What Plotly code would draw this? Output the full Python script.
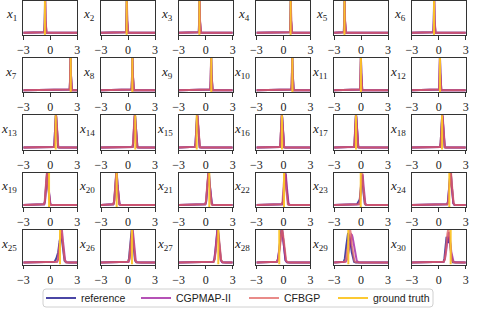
import numpy as np
import plotly.graph_objects as go

# ---------------- data ----------------
labels = [f"x{i}" for i in range(1, 31)]
truth = [-0.60, -0.15, -0.70, 0.80, -1.85, -0.53,
         2.27, 0.48, 0.62, 1.00, -0.02, 0.13,
         0.60, 0.81, -1.00, -0.16, -0.57, 0.36,
         -0.14, -1.26, 0.40, 0.07, -0.04, 1.17,
         1.08, 0.44, 1.40, -0.46, -1.42, 1.32]

cfbgp_mu = [-0.56, -0.12, -0.67, 0.83, -1.82, -0.50,
            2.24, 0.50, 0.60, 0.98, -0.03, 0.12,
            0.64, 0.74, -0.93, -0.18, -0.58, 0.38,
            -0.37, -1.30, 0.30, 0.15, 0.10, 1.33,
            1.20, 0.45, 1.35, -0.15, -1.25, 1.05]
cfbgp_sd = [0.03, 0.03, 0.03, 0.03, 0.03, 0.03,
            0.035, 0.035, 0.035, 0.035, 0.035, 0.035,
            0.08, 0.09, 0.09, 0.08, 0.08, 0.09,
            0.12, 0.12, 0.13, 0.12, 0.12, 0.13,
            0.17, 0.15, 0.16, 0.19, 0.20, 0.18]

cgpmap_mu = [-0.57, -0.13, -0.68, 0.82, -1.83, -0.51,
             2.25, 0.49, 0.61, 0.99, -0.02, 0.13,
             0.62, 0.76, -0.95, -0.17, -0.56, 0.40,
             -0.33, -1.28, 0.33, 0.25, 0.15, 1.30,
             1.25, 0.50, 1.30, -0.20, -1.05, 1.10]
cgpmap_sd = [0.03, 0.03, 0.03, 0.03, 0.03, 0.03,
             0.035, 0.035, 0.035, 0.035, 0.035, 0.035,
             0.08, 0.09, 0.09, 0.08, 0.08, 0.09,
             0.12, 0.12, 0.13, 0.13, 0.13, 0.13,
             0.17, 0.15, 0.16, 0.19, 0.24, 0.20]

ref_mu = [-0.58, -0.14, -0.69, 0.81, -1.84, -0.52,
          2.25, 0.49, 0.61, 0.99, -0.02, 0.13,
          0.62, 0.76, -0.95, -0.17, -0.57, 0.38,
          -0.35, -1.29, 0.32, 0.20, 0.10, 1.30,
          1.18, 0.42, 1.32, -0.20, -1.50, 0.85]
ref_sd = [0.03, 0.03, 0.03, 0.03, 0.03, 0.03,
          0.035, 0.035, 0.035, 0.035, 0.035, 0.035,
          0.08, 0.09, 0.09, 0.08, 0.08, 0.09,
          0.12, 0.12, 0.13, 0.12, 0.12, 0.13,
          0.17, 0.15, 0.16, 0.18, 0.16, 0.12]
# secondary mode of the reference density (weight 0 = none)
ref_mu2 = [0.0] * 22 + [-0.25, 0.0, 0.80, 0.0, 0.0, 0.0, -1.20, 1.18]
ref_w2 = [0.0] * 22 + [0.10, 0.0, 0.15, 0.0, 0.0, 0.0, 0.40, 0.50]

xticks = [-3, 0, 3]
series_names = ["reference", "CGPMAP-II", "CFBGP", "ground truth"]
colors = ["#0d0887", "#9c179e", "#e16462", "#fcc627"]

# ---------------- layout geometry ----------------
W, H = 479, 310
NR, NC = 5, 6
col_left0, col_step, ax_w = 23.3, 77.7, 54.0
row_top0, row_step, ax_h = 0.5, 57.4, 34.4
legend_text_x = [80, 175, 283, 372]      # px, where each legend label starts
legend_box = (43, 289, 433, 307)         # px, x0, y0, x1, y1

xg = np.linspace(-3, 3, 2401)


def pdf(x, m, s):
    return np.exp(-0.5 * ((x - m) / s) ** 2) / (s * np.sqrt(2 * np.pi))


fig = go.Figure()
layout = {}
annotations = []
legend_ids = ["legend", "legend2", "legend3", "legend4"]

for i in range(30):
    r, c = divmod(i, NC)
    ax = "" if i == 0 else str(i + 1)
    xl = col_left0 + col_step * c
    yt = row_top0 + row_step * r
    xd = [xl / W, (xl + ax_w) / W]
    yd = [1 - (yt + ax_h) / H, 1 - yt / H]

    w2 = ref_w2[i]
    y_ref = (1 - w2) * pdf(xg, ref_mu[i], ref_sd[i]) + w2 * pdf(xg, ref_mu2[i], ref_sd[i])
    y_cg = pdf(xg, cgpmap_mu[i], cgpmap_sd[i])
    y_cf = pdf(xg, cfbgp_mu[i], cfbgp_sd[i])
    ymax = y_cf.max() * 0.97
    ymin = -0.065 * ymax

    show = i == 0
    for k, (name, col, yy) in enumerate(zip(series_names[:3], colors[:3], [y_ref, y_cg, y_cf])):
        fig.add_trace(go.Scatter(
            x=xg, y=yy, mode="lines", name=name, legendgroup=name,
            legend=legend_ids[k],
            showlegend=show, line=dict(color=col, width=2), opacity=0.75,
            xaxis="x" + ax, yaxis="y" + ax))
    fig.add_trace(go.Scatter(
        x=[truth[i], truth[i]], y=[ymin, ymax * 1.2], mode="lines",
        name=series_names[3], legendgroup=series_names[3], legend=legend_ids[3],
        showlegend=show,
        line=dict(color=colors[3], width=2), opacity=0.95,
        xaxis="x" + ax, yaxis="y" + ax))

    layout["xaxis" + ax] = dict(
        domain=xd, anchor="y" + ax, range=[-3, 3], tickvals=xticks,
        ticktext=["\u22123", "0", "3"], automargin=False,
        ticks="outside", ticklen=3.5, tickwidth=1, tickcolor="#333",
        showline=True, linecolor="#333", linewidth=1.3, mirror=True,
        showgrid=False, zeroline=False,
        tickfont=dict(family="Liberation Serif, serif", size=12, color="#222"))
    layout["yaxis" + ax] = dict(
        domain=yd, anchor="x" + ax, range=[ymin, ymax], automargin=False,
        showticklabels=False, ticks="", showline=True, linecolor="#333",
        linewidth=1.3, mirror=True, showgrid=False, zeroline=False)

    annotations.append(dict(
        text=f"<i>x</i><sub>{i + 1}</sub>", xref="paper", yref="paper",
        x=xd[0], y=(yd[0] + yd[1]) / 2, xanchor="right", yanchor="middle",
        xshift=-4, yshift=3, showarrow=False,
        font=dict(family="Liberation Serif, serif", size=13, color="#222")))

# legend frame (rounded rectangle) in paper coordinates
x0, y0, x1, y1 = legend_box
rad = 3
px = lambda v: v / W
py = lambda v: 1 - v / H
frame = (f"M{px(x0 + rad)},{py(y0)} L{px(x1 - rad)},{py(y0)} "
         f"Q{px(x1)},{py(y0)} {px(x1)},{py(y0 + rad)} L{px(x1)},{py(y1 - rad)} "
         f"Q{px(x1)},{py(y1)} {px(x1 - rad)},{py(y1)} L{px(x0 + rad)},{py(y1)} "
         f"Q{px(x0)},{py(y1)} {px(x0)},{py(y1 - rad)} L{px(x0)},{py(y0 + rad)} "
         f"Q{px(x0)},{py(y0)} {px(x0 + rad)},{py(y0)} Z")

legends = {}
for k, lid in enumerate(legend_ids):
    legends[lid] = dict(
        orientation="h", x=(legend_text_x[k] - 39) / W, y=py((y0 + y1) / 2),
        xanchor="left", yanchor="middle", bgcolor="rgba(0,0,0,0)",
        borderwidth=0, font=dict(family="Liberation Sans, Arial", size=10.5, color="#222"),
        itemwidth=30, tracegroupgap=0)

fig.update_layout(
    width=W, height=H, margin=dict(l=0, r=0, t=0, b=0, autoexpand=False),
    plot_bgcolor="white", paper_bgcolor="white",
    annotations=annotations,
    shapes=[dict(type="path", xref="paper", yref="paper", path=frame,
                 line=dict(color="#d0d0d0", width=1), fillcolor="white",
                 layer="below")],
    **legends,
    **layout)

fig.write_html(
    "out.html",
    config={"displayModeBar": False},
    post_script="document.body.style.margin='0';document.body.style.overflow='hidden';")
